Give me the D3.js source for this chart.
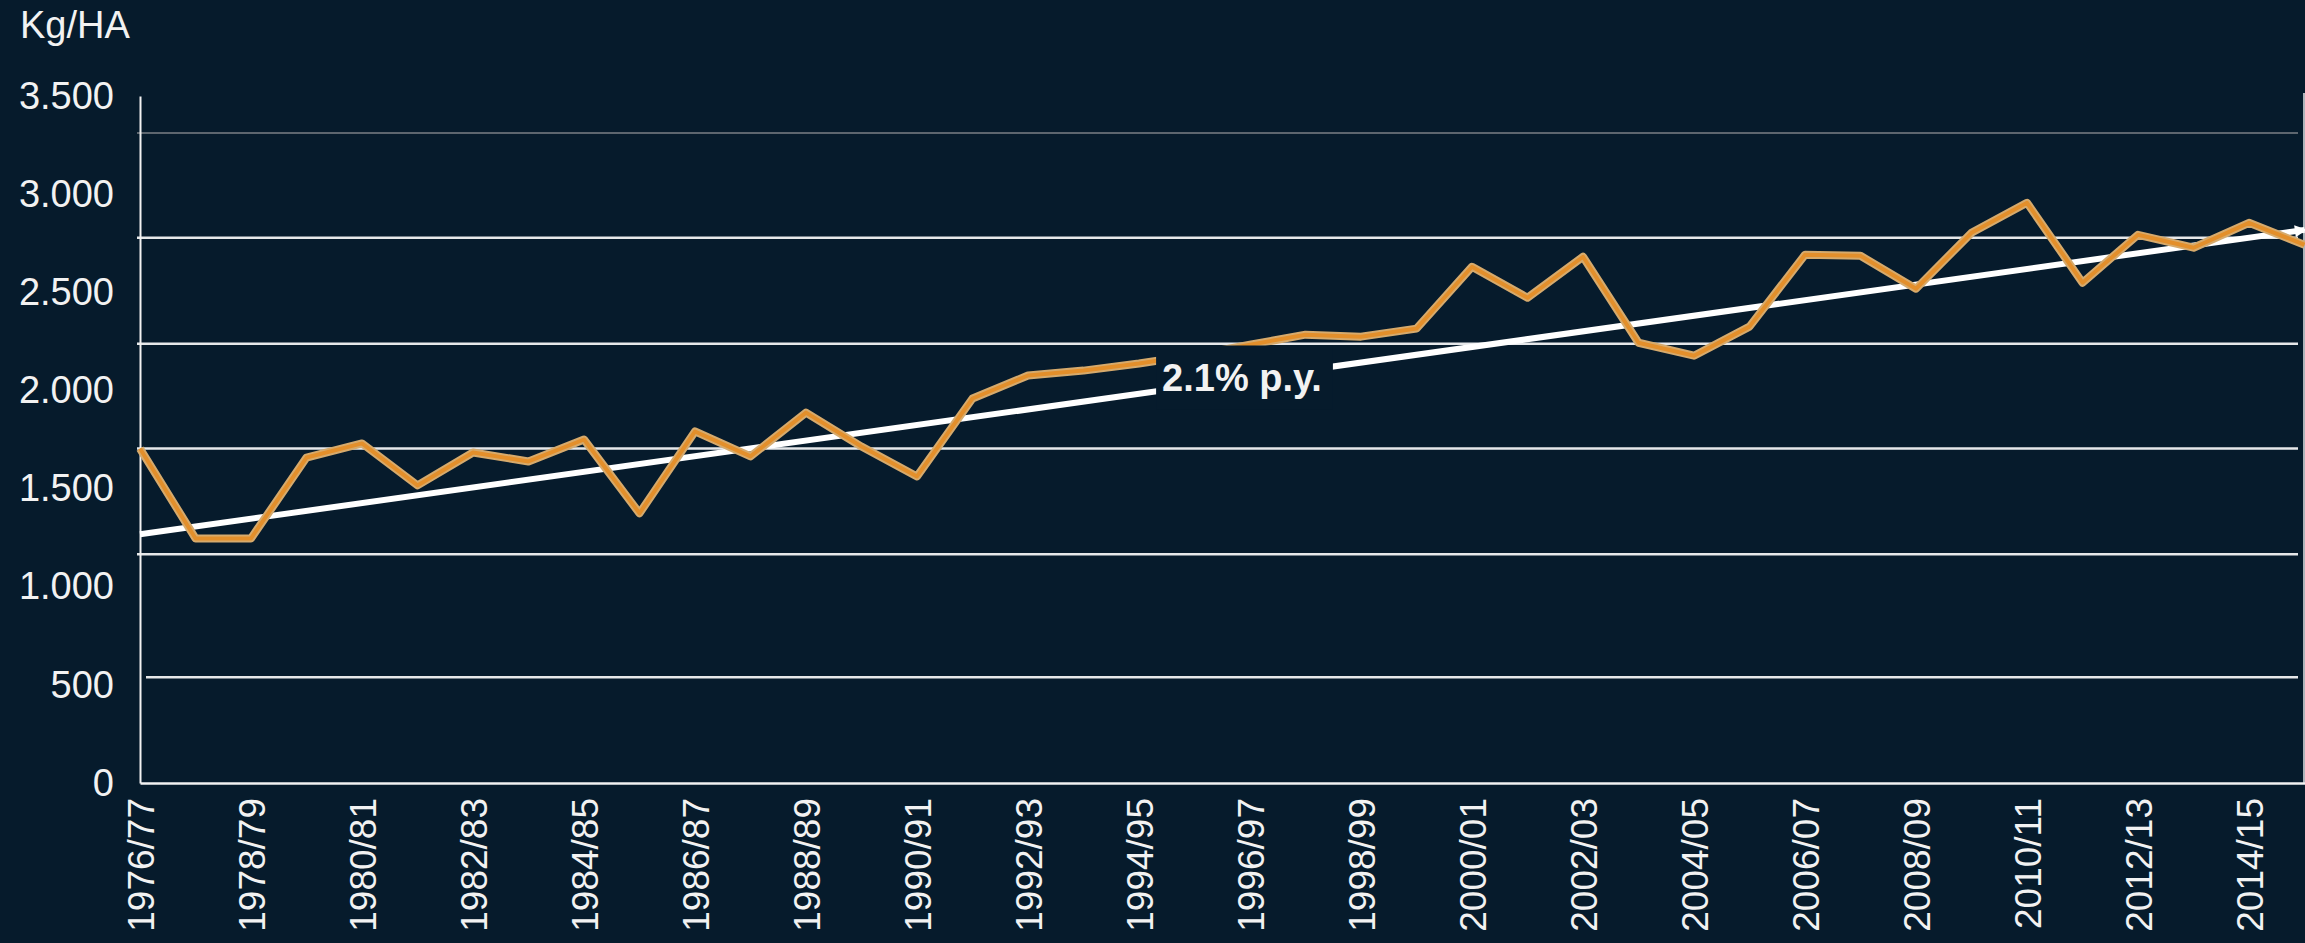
<!DOCTYPE html>
<html>
<head>
<meta charset="utf-8">
<script src="https://cdn.jsdelivr.net/npm/d3@7"></script>
<style>
  body { margin: 0; background: #061b2c; }
  text { font-family: "Liberation Sans", Arial, sans-serif; fill: #f2f2f2; }
</style>
</head>
<body>
<div id="chart"></div>
<script>
// chart data
const seasons = ["1976/77","1977/78","1978/79","1979/80","1980/81","1981/82","1982/83","1983/84",
  "1984/85","1985/86","1986/87","1987/88","1988/89","1989/90","1990/91","1991/92","1992/93",
  "1993/94","1994/95","1995/96","1996/97","1997/98","1998/99","1999/00","2000/01","2001/02",
  "2002/03","2003/04","2004/05","2005/06","2006/07","2007/08","2008/09","2009/10","2010/11",
  "2011/12","2012/13","2013/14","2014/15","2015/16"];
const yieldValues = [1704,1246,1246,1658,1730,1516,1684,1638,1750,1374,1791,1664,1887,1714,
  1562,1959,2076,2101,2137,2180,2233,2284,2274,2315,2630,2472,2681,2243,2177,2325,2691,2686,
  2518,2803,2956,2549,2793,2727,2854,2742];
const xTickLabels = ["1976/77","1978/79","1980/81","1982/83","1984/85","1986/87","1988/89",
  "1990/91","1992/93","1994/95","1996/97","1998/99","2000/01","2002/03","2004/05","2006/07",
  "2008/09","2010/11","2012/13","2014/15"];
const yTicks = [0, 500, 1000, 1500, 2000, 2500, 3000, 3500];
const gridValues = [539, 1165, 1704, 2238, 2778, 3312];
const trendStart = 1267, trendEnd = 2818;
const trendLabel = "2.1% p.y.";
const unitLabel = "Kg/HA";

const width = 2305, height = 943;
const margin = {top: 96, right: 0, bottom: 160, left: 140};
const bg = "#061b2c";

const svg = d3.select("#chart").append("svg")
  .attr("width", width)
  .attr("height", height)
  .style("background-color", bg);

const x = d3.scalePoint()
  .domain(seasons)
  .range([margin.left, width - 0.5]);

const y = d3.scaleLinear()
  .domain([0, 3500])
  .range([height - margin.bottom, margin.top]);

const fmt = d3.formatLocale({decimal: ",", thousands: ".", grouping: [3], currency: ["", ""]}).format(",");

// gridlines (they sit where the original picture had them)
svg.append("g")
  .selectAll("line")
  .data(gridValues)
  .join("line")
    .attr("x1", (d, i) => i == 0 ? x.range()[0] + 6 : x.range()[0] - 3)
    .attr("x2", width - 7)
    .attr("y1", d => y(d))
    .attr("y2", d => y(d))
    .attr("stroke", (d, i) => i == gridValues.length - 1 ? "#7b8086" : "#e6e8ea")
    .attr("stroke-width", (d, i) => i == gridValues.length - 1 ? 1.5 : 2.5);

// y axis
const yAxis = svg.append("g")
  .attr("transform", "translate(" + margin.left + ",0)")
  .call(d3.axisLeft(y).tickValues(yTicks).tickSize(0).tickPadding(26).tickFormat(fmt));
yAxis.select(".domain").attr("stroke", "#f2f2f2").attr("stroke-width", 2);
yAxis.selectAll("text").style("font-size", "38px").attr("fill", "#f2f2f2");

// x axis
const xAxis = svg.append("g")
  .attr("transform", "translate(0," + y(0) + ")")
  .call(d3.axisBottom(x).tickValues(xTickLabels).tickSize(0));
xAxis.select(".domain").attr("stroke", "#f2f2f2").attr("stroke-width", 2.5);
xAxis.selectAll("text")
  .style("font-size", "37px")
  .attr("fill", "#f2f2f2")
  .attr("text-anchor", "end")
  .attr("transform", "rotate(-90)")
  .attr("x", -15)
  .attr("y", 0)
  .attr("dy", "0.36em");

// right border
svg.append("line")
  .attr("x1", width - 1).attr("x2", width - 1)
  .attr("y1", y(3500) - 3).attr("y2", y(0))
  .attr("stroke", "#e6e8ea")
  .attr("stroke-width", 1.5);

// unit label
svg.append("text")
  .attr("x", 20)
  .attr("y", 38)
  .style("font-size", "38px")
  .text(unitLabel);

// trend line with arrow head
svg.append("defs").append("marker")
  .attr("id", "arrow")
  .attr("viewBox", "0 -5 10 10")
  .attr("refX", 8)
  .attr("refY", 0)
  .attr("markerUnits", "userSpaceOnUse")
  .attr("markerWidth", 20)
  .attr("markerHeight", 12)
  .attr("orient", "auto")
  .append("path")
  .attr("d", "M0,-5L10,0L0,5Z")
  .attr("fill", "#ffffff");

const trend = [
  {s: seasons[0], v: trendStart},
  {s: seasons[seasons.length - 1], v: trendEnd}
];
svg.append("path")
  .datum(trend)
  .attr("fill", "none")
  .attr("stroke", "#ffffff")
  .attr("stroke-width", 6)
  .attr("marker-end", "url(#arrow)")
  .attr("d", d3.line().x(d => x(d.s)).y(d => y(d.v)));

// yield line, two strokes to get the tan edge round the orange
const yieldLine = d3.line()
  .x((d, i) => x(seasons[i]))
  .y(d => y(d));

svg.append("path")
  .datum(yieldValues)
  .attr("fill", "none")
  .attr("stroke", "#d6aa6c")
  .attr("stroke-width", 8)
  .attr("stroke-linejoin", "round")
  .attr("d", yieldLine);

svg.append("path")
  .datum(yieldValues)
  .attr("fill", "none")
  .attr("stroke", "#e38f2b")
  .attr("stroke-width", 4)
  .attr("stroke-linejoin", "round")
  .attr("d", yieldLine);

// growth label sits on the trend line, with a patch of background behind it
const labelSeason = "1996/97";
const frac = seasons.indexOf(labelSeason) / (seasons.length - 1);
const labelX = x(labelSeason) - 8;
const labelY = y(trendStart + (trendEnd - trendStart) * frac);

const labelG = svg.append("g");
const labelBox = labelG.append("rect").attr("fill", bg);
const labelText = labelG.append("text")
  .attr("x", labelX)
  .attr("y", labelY)
  .attr("dy", "0.35em")
  .attr("text-anchor", "middle")
  .style("font-size", "38px")
  .style("font-weight", "bold")
  .attr("fill", "#ffffff")
  .text(trendLabel);

const bb = labelText.node().getBBox();
labelBox
  .attr("x", bb.x - 6)
  .attr("y", bb.y - 12)
  .attr("width", bb.width + 17)
  .attr("height", bb.height + 22);
</script>
</body>
</html>
